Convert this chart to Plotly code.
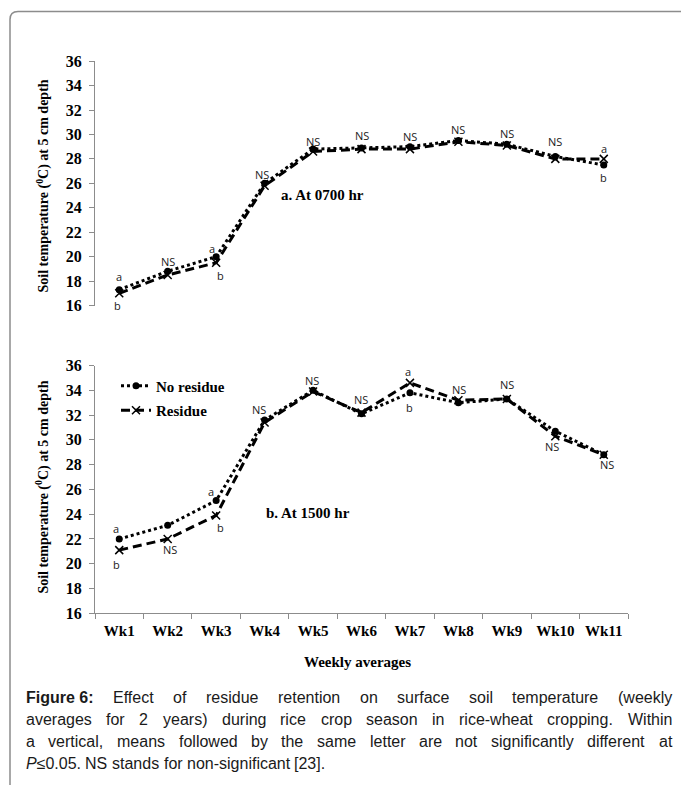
import re
import plotly.graph_objects as go

# ---------------- data ----------------
weeks = ["Wk1", "Wk2", "Wk3", "Wk4", "Wk5", "Wk6", "Wk7", "Wk8", "Wk9", "Wk10", "Wk11"]
am_no_residue = [17.3, 18.8, 20.0, 26.0, 28.8, 28.9, 29.0, 29.5, 29.2, 28.2, 27.5]
am_residue = [17.0, 18.5, 19.5, 25.8, 28.6, 28.8, 28.8, 29.4, 29.1, 28.0, 28.0]
pm_no_residue = [22.0, 23.1, 25.1, 31.6, 34.0, 32.1, 33.8, 33.0, 33.3, 30.7, 28.8]
pm_residue = [21.1, 22.0, 23.9, 31.4, 33.9, 32.2, 34.6, 33.2, 33.3, 30.3, 28.8]
y_ticks = [16, 18, 20, 22, 24, 26, 28, 30, 32, 34, 36]

am_upper_labels = ["a", "NS", "a", "NS", "NS", "NS", "NS", "NS", "NS", "NS", "a"]
am_lower_labels = ["b", "", "b", "", "", "", "", "", "", "", "b"]
pm_upper_labels = ["a", "", "a", "NS", "NS", "NS", "a", "NS", "NS", "", ""]
pm_lower_labels = ["b", "NS", "b", "", "", "", "b", "", "", "NS", "NS"]

series_names = ["No residue", "Residue"]
panel_titles = ["a. At 0700 hr", "b. At 1500 hr"]
y_title = "Soil temperature (<sup>0</sup>C) at 5 cm depth"
x_title = "Weekly averages"
caption_lines = [
    "<b>Figure\u00a06:</b> Effect of residue retention on surface soil temperature (weekly",
    "averages for 2 years) during rice crop season in rice-wheat cropping. Within",
    "a vertical, means followed by the same letter are not significantly different at",
    "<i>P</i>≤0.05. NS stands for non-significant [23].",
]

# ---------------- layout helpers (pixels -> paper) ----------------
W, H = 681, 785
VC, VS = 345.0, 0.978   # vertical compensation for the capture
def px(x):
    return x / W
def py(y):
    yy = VC + (y - VC) / VS
    return 1 - yy / H

# label pixel offsets (style)
am_up_dy = [13, 10, 8, 9, 8, 12, 10, 11, 11, 15, 10]
am_up_dx = [0, 0, -4, -3, 0, 0, 0, 0, 0, 0, 0]
am_lo_dy = [-12, 0, -13, 0, 0, 0, 0, 0, 0, 0, -13]
am_lo_dx = [-2, 0, 4, 0, 0, 0, 0, 0, 0, 0, 0]
pm_up_dy = [10, 0, 9, 11, 10, 13, 11, 11, 14, 0, 0]
pm_up_dx = [-3, 0, -5, -6, -1, -1, -2, 1, 0, 0, 0]
pm_lo_dy = [-14, -11, -12, 0, 0, 0, -15, 0, 0, -10, -10]
pm_lo_dx = [-3, 2, 4, 0, 0, 0, 0, 0, 0, -3, 3]

SERIF = "Liberation Serif"
LBL_FONT = dict(family="Open Sans", size=11, color="#1a1a1a")

fig = go.Figure()

panels = [
    ("x", "y", am_no_residue, am_residue, False),
    ("x2", "y2", pm_no_residue, pm_residue, True),
]
for xa, ya, nores, res, show in panels:
    fig.add_trace(go.Scatter(
        x=weeks, y=nores, name=series_names[0], xaxis=xa, yaxis=ya,
        mode="lines+markers", showlegend=show, legendgroup="g1",
        line=dict(color="black", width=3, dash="dot"),
        marker=dict(symbol="circle", size=7, color="black"),
    ))
    fig.add_trace(go.Scatter(
        x=weeks, y=res, name=series_names[1], xaxis=xa, yaxis=ya,
        mode="lines+markers", showlegend=show, legendgroup="g2",
        line=dict(color="black", width=3, dash="9px,5px"),
        marker=dict(symbol="x-thin", size=8, color="black",
                    line=dict(width=1.5, color="black")),
    ))

annotations = []
def add_labels(xref, yref, nores, res, ups, los, udy, udx, ldy, ldx):
    for i, wk in enumerate(weeks):
        hi = max(nores[i], res[i])
        lo = min(nores[i], res[i])
        if ups[i]:
            annotations.append(dict(x=wk, y=hi, xref=xref, yref=yref, text=ups[i],
                                    showarrow=False, yshift=udy[i], xshift=udx[i],
                                    font=LBL_FONT))
        if los[i]:
            annotations.append(dict(x=wk, y=lo, xref=xref, yref=yref, text=los[i],
                                    showarrow=False, yshift=ldy[i], xshift=ldx[i],
                                    font=LBL_FONT))

add_labels("x", "y", am_no_residue, am_residue, am_upper_labels, am_lower_labels,
           am_up_dy, am_up_dx, am_lo_dy, am_lo_dx)
add_labels("x2", "y2", pm_no_residue, pm_residue, pm_upper_labels, pm_lower_labels,
           pm_up_dy, pm_up_dx, pm_lo_dy, pm_lo_dx)

# panel titles
annotations.append(dict(x=px(279), y=py(195), xref="paper", yref="paper", text="<b>" + panel_titles[0] + "</b>",
                        showarrow=False, xanchor="left", yanchor="middle",
                        font=dict(family=SERIF, size=15, color="black")))
annotations.append(dict(x=px(264), y=py(512), xref="paper", yref="paper", text="<b>" + panel_titles[1] + "</b>",
                        showarrow=False, xanchor="left", yanchor="middle",
                        font=dict(family=SERIF, size=15, color="black")))
# y titles
for cy in (186, 487):
    annotations.append(dict(x=px(43), y=py(cy), xref="paper", yref="paper", text="<b>" + y_title + "</b>",
                            showarrow=False, textangle=-90, xanchor="center", yanchor="middle",
                            font=dict(family=SERIF, size=14, color="black")))
# x title
annotations.append(dict(x=px(357), y=py(661), xref="paper", yref="paper", text="<b>" + x_title + "</b>",
                        showarrow=False, xanchor="center", yanchor="middle",
                        font=dict(family=SERIF, size=15, color="black")))

# ---------------- caption (justified, Arial metrics) ----------------
_reg = {" ": 278, "\u00a0": 278, "(": 333, ")": 333, ",": 278, "-": 333, ".": 278, ":": 278, "[": 278, "]": 278,
        "≤": 549, "F": 611, "N": 722, "S": 667, "P": 667, "W": 944, "E": 667}
for c in "0123456789":
    _reg[c] = 556
_lw = dict(a=556, b=556, c=500, d=556, e=556, f=278, g=556, h=556, i=222, j=222, k=500, l=222, m=833,
           n=556, o=556, p=556, q=556, r=333, s=500, t=278, u=556, v=500, w=722, x=500, y=500, z=500)
_reg.update(_lw)
_bold = {"F": 611, "i": 278, "g": 611, "u": 611, "r": 389, "e": 556, "6": 556, ":": 333, " ": 278, "\u00a0": 278}

CAP_SIZE = 16
def word_width(w):
    bold = "<b>" in w
    plain = re.sub(r"<[^>]+>", "", w)
    tbl = _bold if bold else _reg
    return sum(tbl.get(ch, 556) for ch in plain) * CAP_SIZE / 1000.0

cap_left, cap_right = 24, 670
cap_baselines = [701.5, 723.5, 745.5, 767.5]
for li, line in enumerate(caption_lines):
    words = line.split(" ")
    widths = [word_width(w) for w in words]
    if li < len(caption_lines) - 1:
        gap = (cap_right - cap_left - sum(widths)) / (len(words) - 1)
    else:
        gap = 278 * CAP_SIZE / 1000.0
    xcur = cap_left
    for w, wd in zip(words, widths):
        annotations.append(dict(x=px(xcur), y=py(cap_baselines[li] - 5), xref="paper", yref="paper",
                                text=w, showarrow=False, xanchor="left", yanchor="middle",
                                font=dict(family="Liberation Sans", size=CAP_SIZE, color="#1a1a1a")))
        xcur += wd + gap

# ---------------- frame ----------------
shapes = [dict(type="path", xref="paper", yref="paper",
               path=f"M {px(10)},{py(800)} L {px(10)},{py(19)} Q {px(10)},{py(11)} {px(18)},{py(11)} L {px(685)},{py(11)}",
               line=dict(color="#8c8c8c", width=1.5))]

yaxis_common = dict(range=[16, 36], tickvals=y_ticks, showline=True, linecolor="#8c8c8c", linewidth=1,
                    ticks="outside", ticklen=5, tickcolor="#8c8c8c", showgrid=False, zeroline=False,
                    tickfont=dict(family=SERIF, size=16, color="black", weight="bold"), ticklabelstandoff=4)
xdom = [px(95), px(628)]

fig.update_layout(
    width=W, height=H, autosize=False,
    margin=dict(l=0, r=0, t=0, b=0),
    paper_bgcolor="white", plot_bgcolor="white",
    xaxis=dict(domain=xdom, anchor="y", type="category", categoryorder="array", categoryarray=weeks,
               range=[-0.5, 10.5], showline=False, showticklabels=False, ticks="", showgrid=False, zeroline=False),
    yaxis=dict(domain=[py(305), py(60.7)], anchor="x", **yaxis_common),
    xaxis2=dict(domain=xdom, anchor="y2", type="category", categoryorder="array", categoryarray=weeks,
                range=[-0.5, 10.5], showline=True, linecolor="#8c8c8c", linewidth=1,
                ticks="outside", tickson="boundaries", ticklen=5, tickcolor="#8c8c8c",
                showgrid=False, zeroline=False, ticklabelstandoff=4,
                tickfont=dict(family=SERIF, size=15, color="black", weight="bold")),
    yaxis2=dict(domain=[py(612.7), py(365)], anchor="x2", **yaxis_common),
    legend=dict(x=px(116), y=py(369), xanchor="left", yanchor="top", bgcolor="rgba(0,0,0,0)",
                font=dict(family=SERIF, size=15, color="black", weight="bold"), tracegroupgap=2,
                traceorder="grouped"),
    annotations=annotations,
    shapes=shapes,
    showlegend=True,
)

post = ("document.documentElement.style.margin='0';document.body.style.margin='0';"
        "document.documentElement.style.overflow='hidden';document.body.style.overflow='hidden';"
        "var d=document.getElementById('{plot_id}');d.style.position='fixed';d.style.top='0px';d.style.left='0px';")

fig.write_html("out.html", config={"displayModeBar": False, "responsive": False}, post_script=post)
